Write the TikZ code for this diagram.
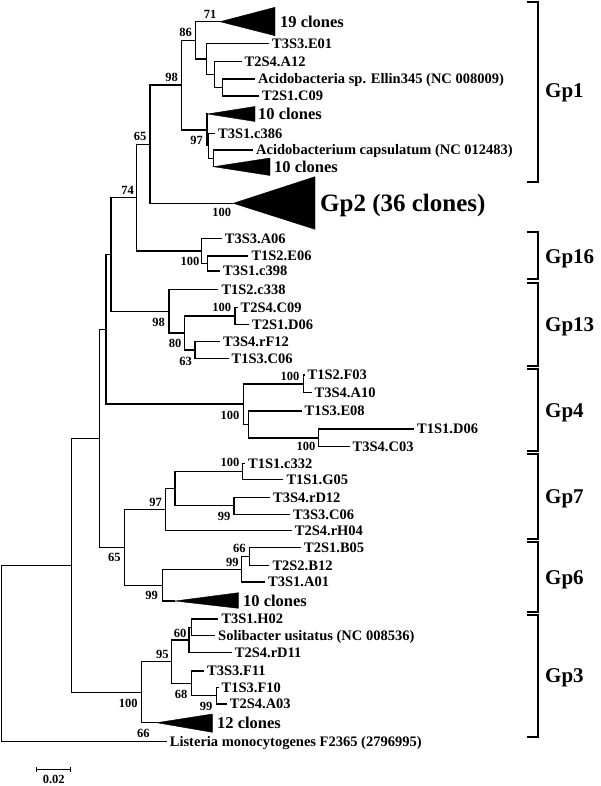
\documentclass[tikz,border=0pt]{standalone}
\usepackage{fontspec}
\setmainfont{Liberation Serif}
\newcommand{\tleaf}[5]{%
  \coordinate (#1) at (#3,#4);
  \draw[br] (#2) |- (#1);
  \node[leaf] (#1t) at (#3+3,#4) {#5};}
\newcommand{\tedge}[4]{%
  \coordinate (#1) at (#3,#4);
  \draw[br] (#2) |- (#1);}
\begin{document}
\begin{tikzpicture}[x=1pt,y=-1pt,
  br/.style={line width=1.3pt},
  leaf/.style={anchor=base west, inner sep=0pt, font=\fontsize{14.5}{16}\selectfont\bfseries, yshift=-4.8pt},
  bs/.style={inner sep=0pt, font=\fontsize{12.5}{14}\selectfont\bfseries},
  clon/.style={anchor=base west, inner sep=0pt, font=\fontsize{16.5}{18}\selectfont\bfseries, yshift=-5.6pt},
  grp/.style={anchor=base west, inner sep=0pt, font=\fontsize{21}{24}\selectfont\bfseries, yshift=-7pt},
  brk/.style={line width=1.9pt, line join=miter},
  tri/.style={fill=black, draw=black, line width=0.4pt}]
\useasboundingbox (0,0) rectangle (600,786);
% ---------- internal nodes ----------
\coordinate (root) at (1.5,653.5);
\tedge{w}{root}{71.7}{565.3}
\tedge{z}{w}{99.3}{438.4}
\tedge{ny}{z}{106}{329.3}
\tedge{nx}{ny}{111}{254.4}
\tedge{n74}{nx}{136.7}{197.6}
\tedge{n65a}{n74}{150}{144.2}
\tedge{n98a}{n65a}{181.7}{85.1}
\tedge{n86}{n98a}{195.7}{40.3}
\tedge{t19}{n86}{220}{21.7}
\tedge{s1}{n86}{206.7}{59}
\tedge{s2}{s1}{214.3}{74.6}
\tedge{s3}{s2}{222.3}{87.5}
\tedge{n97a}{n98a}{207}{129.9}
\tedge{t10a}{n97a}{207.5}{114}
\tedge{nc}{n97a}{208.5}{145.8}
\tedge{nd}{nc}{213.3}{158.3}
\tedge{t10b}{nd}{213.5}{166.7}
\tedge{tgp2}{n65a}{233.3}{203.3}
\tedge{n100b}{n74}{201.7}{250.9}
\tedge{ne}{n100b}{207.7}{263.5}
\tedge{n98b}{nx}{169}{311.2}
\tedge{n80}{n98b}{184.3}{333}
\tedge{n100c}{n80}{235}{316}
\tedge{n63}{n80}{195}{350}
\tedge{g4}{ny}{243.3}{404.1}
\tedge{nf}{g4}{303.3}{383.9}
\tedge{ng}{g4}{248.3}{424.4}
\tedge{nh}{ng}{318.3}{437.9}
\tedge{n65b}{z}{124.3}{547.4}
\tedge{n97b}{n65b}{165.7}{509.6}
\tedge{ni}{n97b}{175}{488.6}
\tedge{nj}{ni}{242.3}{471.3}
\tedge{nk}{ni}{234}{505.8}
\tedge{n99a}{n65b}{162.3}{585.2}
\tedge{nl}{n99a}{241.7}{569.4}
\tedge{nm}{nl}{249.3}{556.7}
\tedge{t10c}{n99a}{175}{601}
\tedge{g3}{w}{141.7}{692.2}
\tedge{n95}{g3}{171.7}{661.7}
\tedge{n60}{n95}{189}{640}
\tedge{nn}{n60}{191.7}{627.4}
\tedge{n68}{n95}{191.7}{683.3}
\tedge{no}{n68}{216.7}{695.7}
\tedge{t12}{g3}{156.7}{722.7}
% ---------- collapsed clades ----------
\fill[tri] (t19) -- (275,7.3) -- (275,35.7) -- cycle;
\fill[tri] (t10a) -- (255,106.5) -- (255,121.5) -- cycle;
\fill[tri] (t10b) -- (270,158) -- (270,175.5) -- cycle;
\fill[tri] (tgp2) -- (315,176.7) -- (315,229.3) -- cycle;
\fill[tri] (t10c) -- (238.3,592.7) -- (238.3,608.3) -- cycle;
\fill[tri] (t12) -- (212.3,714) -- (212.3,732.3) -- cycle;
\node[clon] (c19) at (280,21.7) {19 clones};
\node[clon] (c10a) at (258,114) {10 clones};
\node[clon] (c10b) at (274,166.7) {10 clones};
\node[anchor=base west, inner sep=0pt, font=\fontsize{25}{28}\selectfont\bfseries, yshift=-8.3pt] (cgp2) at (320,203.3) {Gp2 (36 clones)};
\node[clon] (c10c) at (243,601) {10 clones};
\node[clon] (c12) at (217,722.7) {12 clones};
% ---------- leaves ----------
\tleaf{la}{s1}{269}{43.3}{T3S3.E01}
\tleaf{lb}{s2}{241.5}{61.7}{T2S4.A12}
\tleaf{lc}{s3}{255}{79}{Acidobacteria sp. Ellin345 (NC 008009)}
\tleaf{ld}{s3}{259}{96}{T2S1.C09}
\tleaf{le}{nc}{215}{133.3}{T3S1.c386}
\tleaf{lf}{nd}{253}{150}{Acidobacterium capsulatum (NC 012483)}
\tleaf{lg}{n100b}{221.7}{238.3}{T3S3.A06}
\tleaf{lh}{ne}{248.3}{256}{T1S2.E06}
\tleaf{li}{ne}{220}{271}{T3S1.c398}
\tleaf{lj}{n98b}{218.3}{289.3}{T1S2.c338}
\tleaf{lk}{n100c}{237.5}{307.7}{T2S4.C09}
\tleaf{ll}{n100c}{249}{324.3}{T2S1.D06}
\tleaf{lm}{n63}{220}{341.7}{T3S4.rF12}
\tleaf{ln}{n63}{228.5}{358.3}{T1S3.C06}
\tleaf{lo}{nf}{304.5}{375}{T1S2.F03}
\tleaf{lp}{nf}{311.5}{392.7}{T3S4.A10}
\tleaf{lq}{ng}{301.5}{411}{T1S3.E08}
\tleaf{lr}{nh}{414}{429}{T1S1.D06}
\tleaf{ls}{nh}{349.5}{446.7}{T3S4.C03}
\tleaf{lt}{nj}{245}{463.3}{T1S1.c332}
\tleaf{lu}{nj}{283.3}{479.3}{T1S1.G05}
\tleaf{lv}{nk}{270}{497.3}{T3S4.rD12}
\tleaf{lw}{nk}{290}{514.3}{T3S3.C06}
\tleaf{lx}{n97b}{291.7}{530.7}{T2S4.rH04}
\tleaf{ly}{nm}{301}{547.7}{T2S1.B05}
\tleaf{lz}{nm}{269.3}{565.7}{T2S2.B12}
\tleaf{lA}{nl}{265}{582}{T3S1.A01}
\tleaf{lB}{nn}{218.3}{619}{T3S1.H02}
\tleaf{lC}{nn}{215}{635.7}{Solibacter usitatus (NC 008536)}
\tleaf{lD}{n60}{231.7}{652.7}{T2S4.rD11}
\tleaf{lE}{n68}{204}{671}{T3S3.F11}
\tleaf{lF}{no}{218.5}{687.3}{T1S3.F10}
\tleaf{lG}{no}{226.7}{704}{T2S4.A03}
\tleaf{lH}{root}{166.7}{741.7}{Listeria monocytogenes F2365 (2796995)}
% ---------- bootstrap values ----------
\node[bs] (b1) at (210,14) {71};
\node[bs] (b2) at (185.7,32.7) {86};
\node[bs] (b3) at (171.7,77.3) {98};
\node[bs] (b4) at (196.7,140) {97};
\node[bs] (b5) at (140,136.7) {65};
\node[bs] (b6) at (127.7,190) {74};
\node[bs] (b7) at (221.7,212.7) {100};
\node[bs] (b8) at (190,261.7) {100};
\node[bs] (b9) at (158.7,322.7) {98};
\node[bs] (b10) at (175,343.3) {80};
\node[bs] (b11) at (221.7,307.3) {100};
\node[bs] (b12) at (185.7,361) {63};
\node[bs] (b13) at (290,376.7) {100};
\node[bs] (b14) at (230,415) {100};
\node[bs] (b15) at (306,446.7) {100};
\node[bs] (b16) at (230,462.7) {100};
\node[bs] (b17) at (155.7,502.7) {97};
\node[bs] (b18) at (224,516.7) {99};
\node[bs] (b19) at (114.3,557.7) {65};
\node[bs] (b20) at (239.3,548.3) {66};
\node[bs] (b21) at (232.3,562.3) {99};
\node[bs] (b22) at (151.7,595.7) {99};
\node[bs] (b23) at (180,633.3) {60};
\node[bs] (b24) at (162.3,654) {95};
\node[bs] (b25) at (181,694.3) {68};
\node[bs] (b26) at (206,706.7) {99};
\node[bs] (b27) at (128.3,703.3) {100};
\node[bs] (b28) at (143.3,733.3) {66};
% ---------- group brackets ----------
\draw[brk] (526.7,1.7) -- (538.3,1.7) -- (538.3,181.7) -- (526.7,181.7);
\node[grp] (gp1) at (545,91) {Gp1};
\draw[brk] (526.7,231.7) -- (538.3,231.7) -- (538.3,279) -- (526.7,279);
\node[grp] (gp16) at (545,256) {Gp16};
\draw[brk] (526.7,283.3) -- (538.3,283.3) -- (538.3,365.7) -- (526.7,365.7);
\node[grp] (gp13) at (545,324) {Gp13};
\draw[brk] (526.7,369.3) -- (538.3,369.3) -- (538.3,450.7) -- (526.7,450.7);
\node[grp] (gp4) at (545,410.7) {Gp4};
\draw[brk] (526.7,454.3) -- (538.3,454.3) -- (538.3,539) -- (526.7,539);
\node[grp] (gp7) at (545,496.7) {Gp7};
\draw[brk] (526.7,542.3) -- (538.3,542.3) -- (538.3,612.3) -- (526.7,612.3);
\node[grp] (gp6) at (545,577.3) {Gp6};
\draw[brk] (526.7,615.3) -- (538.3,615.3) -- (538.3,737.3) -- (526.7,737.3);
\node[grp] (gp3) at (545,675) {Gp3};
% ---------- scale bar ----------
\coordinate (sbl) at (36.7,769.5);
\coordinate (sbr) at (70.7,769.5);
\draw[line width=0.7pt] (sbl) -- (sbr);
\draw[line width=0.7pt] ([yshift=2.5pt]sbl) -- ([yshift=-2.5pt]sbl);
\draw[line width=0.7pt] ([yshift=2.5pt]sbr) -- ([yshift=-2.5pt]sbr);
\node[inner sep=0pt, font=\fontsize{12.5}{14}\selectfont\bfseries] (sbt) at (53.7,779.3) {0.02};
\end{tikzpicture}
\end{document}
